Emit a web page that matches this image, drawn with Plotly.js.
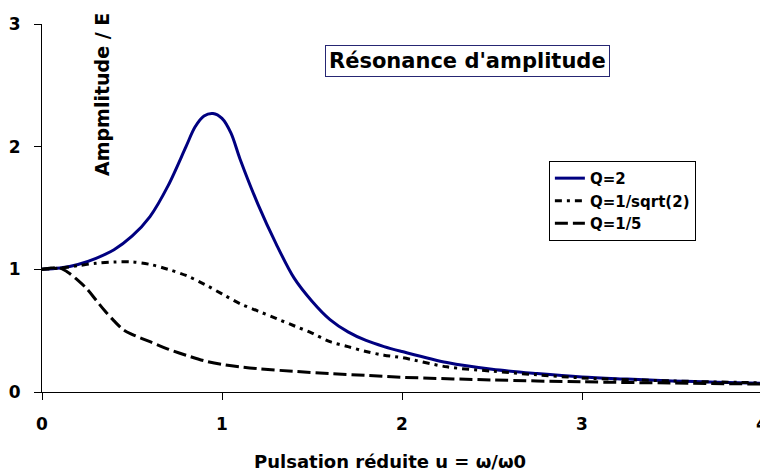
<!DOCTYPE html>
<html>
<head>
<meta charset="utf-8">
<script src="https://cdn.plot.ly/plotly-3.0.1.min.js"></script>
<style>
html, body { margin: 0; padding: 0; overflow: hidden; background: #fff; }
#chart { width: 780px; height: 472px; }
</style>
</head>
<body>
<div id="chart"></div>
<script>
// Reduced pulsation u = omega/omega0
const uQ2 = [0, 0.1, 0.2, 0.3, 0.4, 0.5, 0.6, 0.7, 0.8, 0.85, 0.9, 0.95, 1.0, 1.05, 1.1, 1.2, 1.3, 1.4, 1.5, 1.6, 1.7, 1.8, 1.9, 2.0, 2.25, 2.5, 2.75, 3.0, 3.25, 3.5, 3.75, 4.0];
const ampQ2 = [1.0, 1.01, 1.04, 1.09, 1.16, 1.27, 1.43, 1.68, 2.00, 2.16, 2.25, 2.27, 2.23, 2.11, 1.90, 1.53, 1.21, 0.93, 0.74, 0.59, 0.49, 0.42, 0.37, 0.33, 0.24, 0.185, 0.15, 0.122, 0.105, 0.09, 0.08, 0.07];

const uQr2 = [0, 0.1, 0.2, 0.3, 0.4, 0.5, 0.6, 0.7, 0.8, 0.9, 1.0, 1.1, 1.2, 1.3, 1.4, 1.5, 1.6, 1.7, 1.8, 1.9, 2.0, 2.25, 2.5, 2.75, 3.0, 3.5, 4.0];
const ampQr2 = [1.0, 1.01, 1.03, 1.05, 1.06, 1.06, 1.04, 1.00, 0.95, 0.88, 0.80, 0.72, 0.66, 0.60, 0.54, 0.48, 0.41, 0.37, 0.33, 0.30, 0.28, 0.205, 0.17, 0.14, 0.115, 0.09, 0.075];

const uQ5 = [0, 0.05, 0.1, 0.15, 0.2, 0.25, 0.3, 0.35, 0.4, 0.45, 0.5, 0.6, 0.7, 0.8, 0.9, 1.0, 1.1, 1.2, 1.4, 1.6, 1.8, 2.0, 2.5, 3.0, 3.5, 4.0];
const ampQ5 = [1.0, 1.01, 1.01, 0.97, 0.91, 0.84, 0.75, 0.66, 0.58, 0.51, 0.47, 0.41, 0.35, 0.30, 0.255, 0.225, 0.205, 0.19, 0.168, 0.15, 0.135, 0.12, 0.098, 0.083, 0.073, 0.065];

const seriesNames = ['Q=2', 'Q=1/sqrt(2)', 'Q=1/5'];
const xTicks = [0, 1, 2, 3, 4];
const yTicks = [0, 1, 2, 3];
const chartTitle = "Résonance d'amplitude";
const xTitle = 'Pulsation réduite u = ω/ω0';
const yTitle = 'Ampmlitude / E';

const F = 'DejaVu Sans, Arial, sans-serif';

const traces = [
  { x: uQ2, y: ampQ2, name: seriesNames[0], mode: 'lines',
    line: { color: '#000080', width: 3, shape: 'spline', smoothing: 0.9 } },
  { x: uQr2, y: ampQr2, name: seriesNames[1], mode: 'lines',
    line: { color: '#000000', width: 3, dash: '7px,5px,3px,5px', shape: 'spline', smoothing: 0.9 } },
  { x: uQ5, y: ampQ5, name: seriesNames[2], mode: 'lines',
    line: { color: '#000000', width: 3, dash: '13px,5px', shape: 'spline', smoothing: 0.9 } }
];

const layout = {
  width: 780, height: 472,
  margin: { l: 42, r: 18, t: 24, b: 80 },
  paper_bgcolor: '#ffffff', plot_bgcolor: '#ffffff',
  font: { family: F, color: '#000', weight: 'bold' },
  showlegend: true,
  legend: {
    x: 0.704, y: 0.628, xanchor: 'left', yanchor: 'top',
    bgcolor: '#ffffff', bordercolor: '#000000', borderwidth: 1,
    font: { family: F, size: 15, color: '#000', weight: 'bold' },
    tracegroupgap: 0
  },
  xaxis: {
    range: [0, 4], tickvals: xTicks, ticktext: xTicks.map(String),
    showgrid: false, zeroline: false, showline: true, linecolor: '#000', linewidth: 1,
    ticks: 'outside', ticklen: 7, tickcolor: '#000', tickwidth: 1,
    tickfont: { family: F, size: 17, color: '#000', weight: 'bold' },
    ticklabelstandoff: 10
  },
  yaxis: {
    range: [0, 3], tickvals: yTicks, ticktext: yTicks.map(String),
    showgrid: false, zeroline: false, showline: true, linecolor: '#000', linewidth: 1,
    ticks: 'outside', ticklen: 7, tickcolor: '#000', tickwidth: 1,
    tickfont: { family: F, size: 17, color: '#000', weight: 'bold' },
    ticklabelstandoff: 10
  },
  annotations: [
    { text: chartTitle, xref: 'paper', yref: 'paper', x: (467 - 42) / 720, y: (392 - 61.5) / 368,
      xanchor: 'center', yanchor: 'middle', showarrow: false,
      font: { family: F, size: 21, color: '#000', weight: 'bold' },
      bgcolor: '#ffffff', bordercolor: '#262673', borderwidth: 1, borderpad: 3 },
    { text: yTitle, xref: 'paper', yref: 'paper', x: (102 - 42) / 720, y: (392 - 95) / 368,
      xanchor: 'center', yanchor: 'middle', showarrow: false, textangle: -90,
      font: { family: F, size: 19, color: '#000', weight: 'bold' } },
    { text: xTitle, xref: 'paper', yref: 'paper', x: (390 - 42) / 720, y: (392 - 461) / 368,
      xanchor: 'center', yanchor: 'middle', showarrow: false,
      font: { family: F, size: 18, color: '#000', weight: 'bold' } }
  ]
};

Plotly.newPlot('chart', traces, layout, { displayModeBar: false, staticPlot: true });
</script>
</body>
</html>
